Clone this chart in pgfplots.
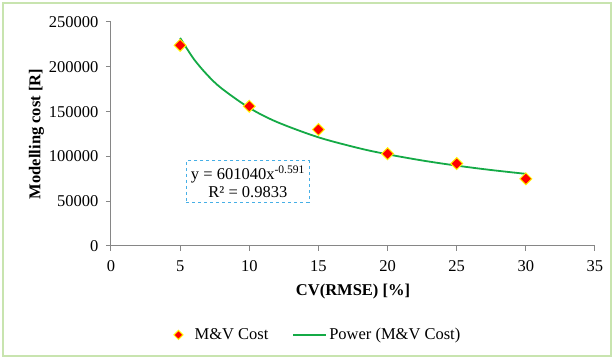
\documentclass[border=0pt]{standalone}
\usepackage{fontspec}
\setmainfont{Liberation Serif}
\usepackage{pgfplots}
\pgfplotsset{compat=1.18}
\definecolor{trend}{RGB}{20,170,70}
\definecolor{axgray}{RGB}{134,134,134}
\definecolor{framegreen}{RGB}{200,228,175}
\definecolor{boxblue}{RGB}{70,175,230}
\pgfplotsset{
  mk legend/.style={legend image code/.code={\draw[##1, mark size=3.2pt] plot coordinates {(0pt,0pt)}; \path (-4pt,0pt) (14pt,0pt);}},
  ln legend/.style={legend image code/.code={\draw[##1] (0pt,0pt) -- (33pt,0pt);}},
}
\begin{document}
\begin{tikzpicture}[x=1pt,y=1pt]
\useasboundingbox (-111,-112) rectangle (503,246);
\draw[framegreen,line width=1.2pt] (-108,-110) rectangle (500,243);
\begin{axis}[
  at={(0,0)}, anchor=origin,
  scale only axis, width=484pt, height=224pt,
  xmin=0, xmax=35, ymin=0, ymax=250000,
  xtick={0,5,10,15,20,25,30,35},
  xticklabels={0,5,10,15,20,25,30,35},
  ytick={0,50000,100000,150000,200000,250000},
  yticklabels={0,50000,100000,150000,200000,250000},
  axis x line*=bottom, axis y line*=left,
  axis line style={axgray, line width=1pt},
  tick style={axgray, line width=1pt},
  tick align=outside, major tick length=5pt,
  every tick label/.style={font=\fontsize{16.5}{19}\selectfont},
  xticklabel style={yshift=-6pt},
  yticklabel style={xshift=-4pt},
  scaled y ticks=false,
  xlabel={\textbf{CV(RMSE) [\%]}},
  ylabel={\textbf{Modelling cost [R]}},
  label style={font=\fontsize{16.5}{19}\selectfont},
  xlabel style={yshift=-6pt},
  ylabel style={yshift=-2pt},
  legend columns=2,
  legend style={draw=none, at={(0.428,-0.397)}, anchor=center,
    font=\fontsize{16.5}{19}\selectfont,
    /tikz/every even column/.append style={column sep=22pt}},
  legend cell align=left,
]
\addplot[only marks, mark=square*, mark size=4.2pt,
  mark options={fill=red, draw=yellow, line width=1pt, rotate=45}, mk legend]
  coordinates {(5,224000) (10,156000) (15,130000) (20,103000) (25,92000) (30,75000)};
\addlegendentry{M\&V Cost}
\addplot[trend, line width=1.8pt, smooth, no marks, ln legend]
  coordinates {(5,232170) (6,208453) (7,190307) (8,175864) (10,154137) (12,138396)
  (15,121290) (18,108904) (20,102327) (22.5,95451) (25,89687) (27.5,84771) (30,80521)};
\addlegendentry{Power (M\&V Cost)}
\node[draw=boxblue, dashed, line width=0.8pt, align=center, inner xsep=4.5pt, inner ysep=4.5pt,
  font=\fontsize{16.5}{18}\selectfont, fill=white]
  at (axis cs:9.9,72000) {y = 601040x\textsuperscript{-0.591}\\R² = 0.9833};
\end{axis}
\end{tikzpicture}
\end{document}
